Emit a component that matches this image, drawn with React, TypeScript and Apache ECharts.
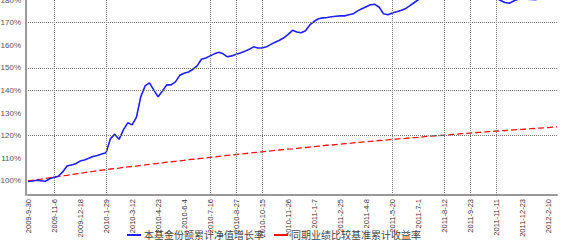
import React, { useEffect, useRef } from "react";
import * as echarts from "echarts";

const tickLabels = [
  "2009-9-30", "2009-11-6", "2009-12-18", "2010-1-29", "2010-3-12", "2010-4-23",
  "2010-6-4", "2010-7-16", "2010-8-27", "2010-10-15", "2010-11-26", "2011-1-7",
  "2011-2-25", "2011-4-8", "2011-5-20", "2011-7-1", "2011-8-12", "2011-9-23",
  "2011-11-11", "2011-12-23", "2012-2-10",
];

const fundName = "本基金份额累计净值增长率";
const benchName = "同期业绩比较基准累计收益率";

const fundValues = [
  99.8, 100.0, 100.3, 100.1, 99.9, 101.0, 101.6, 102.1, 104.0, 106.6,
  107.1, 107.6, 108.8, 109.3, 110.0, 110.8, 111.3, 111.9, 112.5, 118.6,
  120.7, 118.4, 122.6, 125.7, 124.8, 128.1, 137.2, 142.0, 143.4, 140.3,
  137.2, 139.8, 142.5, 142.5, 143.8, 146.7, 147.6, 148.2, 149.3, 150.9,
  153.8, 154.4, 155.3, 156.2, 156.9, 156.2, 154.9, 155.3, 156.0, 156.6,
  157.3, 158.2, 159.3, 158.8, 158.8, 159.3, 160.4, 161.3, 162.2, 163.3,
  164.8, 166.6, 165.9, 165.5, 166.4, 169.0, 170.6, 171.7, 172.1, 172.3,
  172.6, 172.8, 173.0, 173.0, 173.5, 173.9, 175.2, 176.1, 177.0, 177.9,
  178.1, 176.8, 173.9, 173.5, 174.3, 174.8, 175.4, 176.1, 177.4, 178.8,
  180.1, 181.5, 182.8, 183.6, 184.9, 185.3, 184.8, 185.6, 186.2, 185.7,
  186.4, 185.9, 185.2, 184.6, 184.0, 183.1, 182.3, 181.6, 180.8, 179.8,
  178.9, 178.6, 179.6, 180.3, 180.9, 180.4, 180.2, 180.1, 180.6, 181.5,
  182.2, 182.7, 183.0,
];

const benchValues = [
  100.0, 100.3, 100.6, 100.8, 101.1, 101.4, 101.7, 102.0, 102.3, 102.5,
  102.8, 103.1, 103.4, 103.7, 104.0, 104.2, 104.5, 104.8, 105.0, 105.3,
  105.5, 105.7, 106.0, 106.2, 106.4, 106.6, 106.9, 107.1, 107.3, 107.6,
  107.8, 108.0, 108.3, 108.5, 108.7, 108.9, 109.1, 109.4, 109.6, 109.8,
  110.0, 110.2, 110.4, 110.6, 110.9, 111.1, 111.3, 111.5, 111.7, 111.9,
  112.1, 112.3, 112.5, 112.7, 112.9, 113.1, 113.3, 113.5, 113.7, 113.9,
  114.1, 114.2, 114.4, 114.6, 114.8, 115.0, 115.2, 115.4, 115.6, 115.8,
  115.9, 116.1, 116.3, 116.5, 116.6, 116.8, 117.0, 117.2, 117.3, 117.5,
  117.7, 117.9, 118.0, 118.2, 118.4, 118.5, 118.7, 118.8, 119.0, 119.2,
  119.3, 119.5, 119.7, 119.8, 120.0, 120.1, 120.3, 120.4, 120.6, 120.7,
  120.9, 121.0, 121.2, 121.3, 121.5, 121.6, 121.8, 121.9, 122.1, 122.2,
  122.3, 122.5, 122.6, 122.7, 122.8, 123.0, 123.1, 123.2, 123.4, 123.5,
  123.6, 123.8, 123.9,
];

const yTickValues = [100, 110, 120, 130, 140, 150, 160, 170, 180];
const yGridValues = [120, 140, 150, 170];
const xGridIndices = [6, 18, 42, 48, 54, 84, 96, 102, 108];
const labelStep = 6;

export default function App() {
  const ref = useRef<HTMLDivElement>(null);
  useEffect(() => {
    if (!ref.current) return;
    const chart = echarts.init(ref.current, undefined, { renderer: "svg" });
    const categories = fundValues.map((_, i) => String(i));
    chart.setOption({
      animation: false,
      backgroundColor: "#ffffff",
      textStyle: { fontFamily: "Liberation Sans, Noto Sans CJK SC, sans-serif" },
      grid: {
        left: 28,
        right: 24,
        top: -22.6,
        bottom: 50,
        containLabel: false,
        outerBoundsMode: "none",
      },
      legend: {
        bottom: 0,
        left: 122,
        itemWidth: 14,
        itemHeight: 2,
        itemGap: 10,
        icon: "rect",
        textStyle: { fontSize: 10, color: "#444", padding: [0, 0, 0, -2] },
        data: [fundName, benchName],
      },
      xAxis: {
        type: "category",
        data: categories,
        boundaryGap: false,
        axisLine: { lineStyle: { color: "#999", width: 2 } },
        axisTick: { show: false },
        axisLabel: {
          interval: labelStep - 1,
          rotate: 90,
          fontSize: 7.5,
          color: "#333",
          margin: 4,
          formatter: (_v: string, i: number) => tickLabels[Math.round(i / labelStep)] ?? "",
        },
        splitLine: { show: false },
      },
      yAxis: {
        type: "value",
        min: 93.8,
        max: 190,
        offset: 2,
        axisLine: { show: true, lineStyle: { color: "#999", width: 2 } },
        axisTick: { show: false, customValues: yTickValues },
        axisLabel: {
          customValues: yTickValues,
          fontSize: 8,
          color: "#555",
          margin: 5,
          formatter: (v: number) => `${v}%`,
        },
        splitLine: { show: false },
      },
      series: [
        {
          name: fundName,
          type: "line",
          data: fundValues,
          showSymbol: false,
          symbol: "none",
          lineStyle: { color: "#1f1fff", width: 1.6 },
          itemStyle: { color: "#1f1fff" },
          z: 3,
          markLine: {
            silent: true,
            symbol: "none",
            label: { show: false },
            lineStyle: { color: "#777", type: "dotted", width: 1 },
            data: yGridValues.map((v) => ({ yAxis: v })),
          },
        },
        {
          name: benchName,
          type: "line",
          data: benchValues,
          showSymbol: false,
          symbol: "none",
          lineStyle: { color: "#ff1010", width: 1.3, type: [6, 3] },
          itemStyle: { color: "#ff1010" },
          z: 2,
          markLine: {
            silent: true,
            symbol: "none",
            label: { show: false },
            lineStyle: { color: "#777", type: "dotted", width: 1 },
            data: xGridIndices.map((i) => [
              { coord: [String(i), 93.8] },
              { coord: [String(i), 190] },
            ]),
          },
        },
      ],
    });
    return () => chart.dispose();
  }, []);
  return (
    <div
      ref={ref}
      style={{ position: "fixed", left: 0, top: 0, width: 581, height: 245, background: "#fff" }}
    />
  );
}
